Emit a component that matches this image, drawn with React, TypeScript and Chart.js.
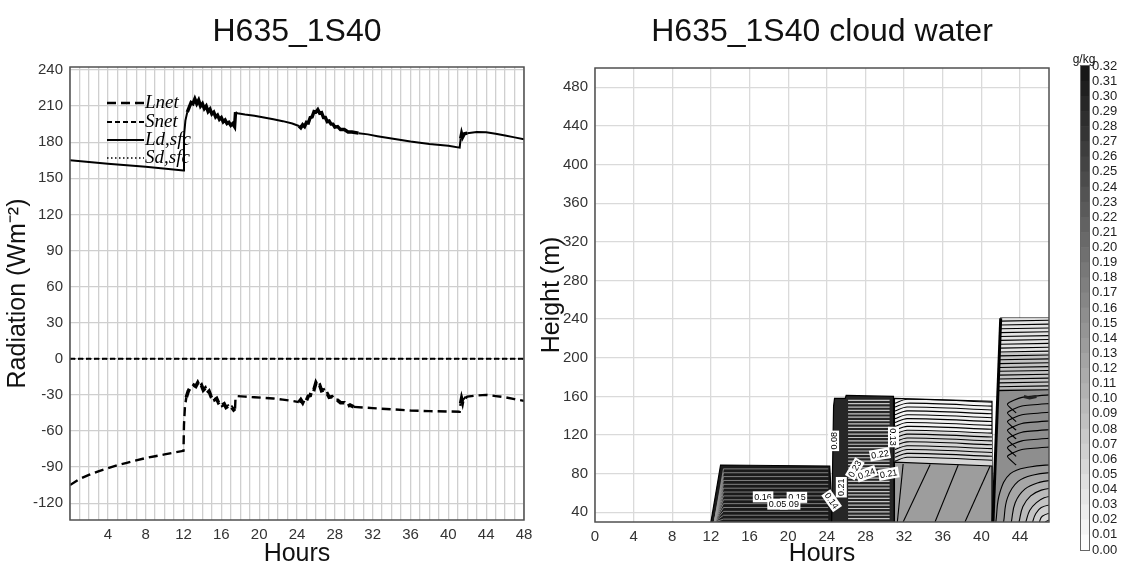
import React, { useEffect, useRef } from "react";
import { Chart, registerables } from "chart.js";

Chart.register(...registerables);

const SANS = "'Liberation Sans', Arial, Helvetica, sans-serif";
const SERIF = "'Liberation Serif', 'Times New Roman', serif";

// ---------------- Left panel: radiation time series ----------------
const lnetHours = [0, 1, 2, 3, 4, 5, 6, 7, 8, 9, 10, 11, 12, 12.05, 12.15, 12.3, 12.5, 12.7, 12.9, 13.1, 13.3, 13.5, 13.7, 13.9, 14.1, 14.3, 14.5, 14.7, 14.9, 15.1, 15.3, 15.5, 15.7, 15.9, 16.1, 16.3, 16.5, 16.7, 16.9, 17.1, 17.3, 17.45, 17.5, 17.7, 18.5, 19.5, 20.5, 21.5, 22.5, 23.5, 24.2, 24.4, 24.6, 24.8, 25.0, 25.2, 25.4, 25.6, 25.8, 26.0, 26.2, 26.4, 26.6, 26.8, 27.0, 27.2, 27.4, 27.7, 28.0, 28.3, 28.6, 29.0, 29.3, 29.6, 30, 31, 32, 34, 36, 38, 41.2, 41.3, 41.4, 41.5, 41.6, 41.8, 42, 43, 44, 45, 46, 47, 48];
const lnetValues = [-105, -100, -96.5, -93.5, -91, -88.5, -86.5, -84.5, -82.5, -81, -79.5, -78, -76.5, -55, -40, -32, -27, -24, -24, -22, -23, -20, -23.5, -22, -26, -24.5, -28.5, -27, -31, -30, -34, -33, -36.5, -35.5, -38.5, -37.5, -40.5, -39.5, -41.5, -40.5, -42.5, -41.5, -32, -31, -31.5, -32, -32.5, -33, -34, -35, -36, -34, -36.5, -33, -34.5, -31, -30.5, -25, -25.5, -20, -23, -22, -26.5, -26, -29.5, -29, -32, -31.5, -34.5, -34.5, -36.5, -36.5, -39.5, -38.5, -40, -40.5, -41, -42, -43, -43.5, -44, -37, -33, -36, -32, -33, -31.5, -30.5, -30, -31, -32, -33.5, -35];

const ldHours = [0, 4, 8, 12, 12.05, 12.2, 12.4, 12.6, 12.8, 13.0, 13.2, 13.4, 13.6, 13.8, 14.0, 14.2, 14.4, 14.6, 14.8, 15.0, 15.2, 15.4, 15.6, 15.8, 16.0, 16.2, 16.4, 16.6, 16.8, 17.0, 17.2, 17.4, 17.5, 17.7, 18.5, 19.5, 20.5, 21.5, 22.5, 23.5, 24.2, 24.4, 24.6, 24.8, 25.0, 25.2, 25.4, 25.6, 25.8, 26.0, 26.2, 26.4, 26.6, 26.8, 27.0, 27.2, 27.4, 27.6, 27.8, 28.0, 28.3, 28.6, 29.0, 29.4, 29.8, 30.5, 31.5, 32.5, 34, 36, 38, 40, 41.2, 41.3, 41.4, 41.5, 41.7, 42, 43, 44, 45, 46, 47, 48];
const ldValues = [165, 162, 159.5, 156.5, 185, 198, 205, 209, 213, 212, 216, 212, 215, 210, 212, 208, 210, 205.5, 207.5, 203.5, 205, 201, 202.5, 199, 200.5, 197, 198.5, 195.5, 196.5, 194, 195.5, 193, 205, 204, 203, 202, 200.5, 199, 197.5, 195.5, 193.5, 192, 194.5, 193, 196.5, 196, 200.5, 201, 205.5, 205, 207, 204, 204.5, 200.5, 200.5, 197, 197.5, 195, 195, 192.5, 193, 190.5, 190.5, 188.5, 188.5, 187.5, 186.5, 185, 183, 180.5, 178.5, 177, 175.5, 183, 187, 184, 187, 187.5, 188.5, 188.3, 187, 185.5, 184, 182.5];

const snetHours = [0, 48];
const snetValues = [0, 0];
const sdHours = [0, 48];
const sdValues = [0, 0];

const seriesLabels = ["Lnet", "Snet", "Ld,sfc", "Sd,sfc"];
// cloudy (noisy) periods drawn with a heavier stroke
const noisyStart = [12.3, 24.2, 41.3];
const noisyEnd = [17.45, 29.9, 41.8];

// ---------------- Right panel: cloud water contours (hours, height m) ----------------
type Pt = [number, number];
const cloud1Outline: Pt[] = [[12, 30], [13, 89], [24.3, 88], [24.6, 30]];
const cloud1Levels = [85, 81, 77, 73, 69, 65, 61, 57, 53, 49, 45, 41, 37, 33];
const cloud2Outline: Pt[] = [[24.5, 30], [24.7, 150], [24.8, 158], [25.9, 158], [26, 161], [30.9, 160], [31, 30]];
const cloud2Levels = [156, 152.5, 149, 145.5, 142, 138.5, 135, 131.5, 128, 124.5, 121, 117.5, 114, 110.5, 107, 103.5, 100, 96.5, 93, 89.5, 86, 82.5, 79, 75.5, 72, 68.5, 65, 61.5, 58, 54.5, 51, 47.5, 44, 40.5, 37, 33.5];
const cloud3Outline: Pt[] = [[31, 30], [31, 158], [41.1, 155], [41.1, 30]];
const cloud3MidOutline: Pt[] = [[31, 30], [31, 125], [41.1, 121], [41.1, 30]];
const cloud3LowOutline: Pt[] = [[31, 30], [31, 92], [41.1, 88], [41.1, 30]];
const cloud3Levels = [157, 153, 149, 145, 141, 137, 133, 129, 125, 121, 117, 113, 109, 105, 101, 97];
const cloud3Diagonals: Pt[][] = [
  [[31.9, 90], [31.3, 30]],
  [[34.7, 89.5], [31.9, 30]],
  [[37.6, 89], [35.2, 30]],
  [[40.9, 88], [38.3, 30]],
];
const cloud4Outline: Pt[] = [[41.2, 30], [42, 241], [47.6, 241], [47.6, 30]];
const cloud4UpperOutline: Pt[] = [[41.73, 168], [42, 241], [47.6, 241], [47.6, 168]];
const cloud4TopOutline: Pt[] = [[41.87, 205], [42, 241], [47.6, 241], [47.6, 205]];
const cloud4Levels = [238, 234, 230, 226, 222, 218, 214, 210, 206, 202, 198, 194, 190, 186, 182, 178, 174, 170, 166];
const cloud4Chevrons = [152, 143, 134, 125, 116, 107, 98];
const cloud4Arcs: Pt[][] = [
  [[41.5, 30], [41.9, 60], [43, 80], [45, 87], [47.6, 89.5]],
  [[42.3, 30], [42.7, 55], [43.8, 72], [45.5, 79], [47.6, 81.5]],
  [[43.1, 30], [43.5, 50], [44.5, 64], [46, 71], [47.6, 73.5]],
  [[43.9, 30], [44.3, 46], [45.1, 57], [46.2, 63], [47.6, 65.5]],
  [[44.6, 30], [45, 42], [45.7, 50], [46.5, 55], [47.6, 57.5]],
  [[45.3, 30], [45.6, 38], [46.2, 45], [47.6, 49]],
  [[46, 30], [46.3, 36], [47.6, 41]],
  [[46.6, 30], [47.6, 35]],
];
const cloud4ArcFills = ["#9c9c9c", "#a6a6a6", "#b0b0b0", "#bababa", "#c4c4c4", "#cecece", "#d8d8d8", "#e2e2e2"];
const cloud4Edge: Pt[] = [[41.2, 30], [42, 241]];
const cloud4Eye: Pt[] = [[44.4, 160], [45, 158.5], [45.7, 160]];

const labelTexts = ["0.16", "0.15", "0.09", "0.05", "0.14", "0.21", "0.23", "0.24", "0.22", "0.21", "0.13", "0.08"];
const labelHours = [17.4, 20.9, 20.2, 18.9, 24.5, 25.5, 26.9, 28.1, 29.5, 30.4, 30.9, 24.7];
const labelHeights = [56, 55.5, 48.5, 48.5, 52, 66, 85, 80, 100, 80, 118, 114];
const labelAngles = [0, 0, 0, 0, 55, -90, -60, -20, -10, -10, 90, -90];

// ---------------- Colour bar ----------------
const colorbarLevels = [0.0, 0.01, 0.02, 0.03, 0.04, 0.05, 0.06, 0.07, 0.08, 0.09, 0.1, 0.11, 0.12, 0.13, 0.14, 0.15, 0.16, 0.17, 0.18, 0.19, 0.2, 0.21, 0.22, 0.23, 0.24, 0.25, 0.26, 0.27, 0.28, 0.29, 0.3, 0.31, 0.32];

const toXY = (xs: number[], ys: number[]) => xs.map((x, i) => ({ x, y: ys[i] }));
const inNoise = (x: number) => noisyStart.some((s, i) => x >= s && x < noisyEnd[i]);

const framePlugin = {
  id: "frame",
  afterDraw(chart: any) {
    const { ctx, chartArea: a } = chart;
    ctx.save();
    ctx.strokeStyle = "#505050";
    ctx.lineWidth = 1.5;
    ctx.strokeRect(a.left, a.top, a.right - a.left, a.bottom - a.top);
    ctx.restore();
  },
};

const makeTitle = (text: string) => ({
  id: "panelTitle",
  afterDraw(chart: any) {
    const { ctx, chartArea: a } = chart;
    ctx.save();
    ctx.font = `32px ${SANS}`;
    ctx.fillStyle = "#111";
    ctx.textAlign = "center";
    ctx.textBaseline = "middle";
    ctx.fillText(text, (a.left + a.right) / 2, 32);
    ctx.restore();
  },
});

const legendPlugin = {
  id: "innerLegend",
  afterDraw(chart: any) {
    const { ctx } = chart;
    const rows = [103, 122, 140, 158];
    ctx.save();
    chart.data.datasets.forEach((ds: any, i: number) => {
      const y = rows[i];
      ctx.strokeStyle = "#000";
      ctx.lineWidth = ds.borderWidth;
      ctx.setLineDash(ds.borderDash || []);
      ctx.beginPath();
      ctx.moveTo(107, y);
      ctx.lineTo(144, y);
      ctx.stroke();
      ctx.setLineDash([]);
      ctx.font = `italic 19px ${SERIF}`;
      ctx.fillStyle = "#000";
      ctx.textBaseline = "middle";
      ctx.textAlign = "left";
      ctx.fillText(ds.label, 145, y);
    });
    ctx.restore();
  },
};

const contourLabelPlugin = {
  id: "contourLabels",
  afterDatasetsDraw(chart: any) {
    const { ctx, scales } = chart;
    ctx.save();
    ctx.font = `9px ${SANS}`;
    labelTexts.forEach((t, i) => {
      const px = scales.x.getPixelForValue(labelHours[i]);
      const py = scales.y.getPixelForValue(labelHeights[i]);
      ctx.save();
      ctx.translate(px, py);
      ctx.rotate((labelAngles[i] * Math.PI) / 180);
      const w = ctx.measureText(t).width + 3;
      ctx.fillStyle = "#fff";
      ctx.fillRect(-w / 2, -5.5, w, 11);
      ctx.fillStyle = "#000";
      ctx.textAlign = "center";
      ctx.textBaseline = "middle";
      ctx.fillText(t, 0, 0.5);
      ctx.restore();
    });
    ctx.restore();
  },
};

const gbarTitle = {
  id: "gkg",
  afterDraw(chart: any) {
    const { ctx, chartArea: a } = chart;
    ctx.save();
    ctx.font = `12px ${SANS}`;
    ctx.fillStyle = "#111";
    ctx.textAlign = "center";
    ctx.textBaseline = "middle";
    ctx.fillText("g/kg", a.left + 3, 60);
    ctx.strokeStyle = "#666";
    ctx.lineWidth = 1;
    ctx.strokeRect(a.left - 0.5, a.top - 0.5, a.right - a.left + 1, a.bottom - a.top + 1);
    ctx.restore();
  },
};

function buildContourDatasets() {
  const list: any[] = [];
  const add = (pts: Pt[], o: any) =>
    list.push({
      data: pts.map(([x, y]) => ({ x, y })),
      pointRadius: 0,
      borderWidth: 0,
      borderColor: "#000",
      backgroundColor: "rgba(0,0,0,0)",
      fill: false,
      tension: 0,
      ...o,
    });
  const edgeX = (h: number) => 41.2 + ((h - 30) * 0.8) / 211;

  add(cloud1Outline, { fill: "start", backgroundColor: "#1a1a1a", borderWidth: 1.2 });
  cloud1Levels.forEach((l) => add([[12.35, 30], [13.3, l], [24.15, l]], { borderColor: "#9a9a9a", borderWidth: 0.8 }));
  add(cloud2Outline, { fill: "start", backgroundColor: "#262626", borderWidth: 1.2 });
  cloud2Levels.forEach((l) => add([[26.2, l], [30.5, l]], { borderColor: "#c4c4c4", borderWidth: 1.2 }));
  add(cloud3Outline, { fill: "start", backgroundColor: "#f3f3f3", borderWidth: 1.2 });
  add(cloud3MidOutline, { fill: "start", backgroundColor: "#d6d6d6" });
  add(cloud3LowOutline, { fill: "start", backgroundColor: "#9d9d9d", borderWidth: 1.2 });
  cloud3Levels.forEach((l) => add([[31.05, l - 4], [32.3, l], [41.1, l - 3]], { borderWidth: 1.1, tension: 0.3 }));
  cloud3Diagonals.forEach((d) => add(d, { borderWidth: 1.1 }));
  add(cloud4Outline, { fill: { value: 30 }, backgroundColor: "#8e8e8e", borderWidth: 1.2 });
  add(cloud4UpperOutline, { fill: { value: 168 }, backgroundColor: "#c4c4c4" });
  add(cloud4TopOutline, { fill: { value: 205 }, backgroundColor: "#e4e4e4" });
  cloud4Levels.forEach((l) => add([[edgeX(l), l], [47.6, l + 1]], { borderWidth: 1.1 }));
  cloud4Chevrons.forEach((l) => add([[47.6, l + 10], [44.2, l + 7], [42.7, l], [43.6, l - 9]], { borderWidth: 1.1, tension: 0.2 }));
  cloud4Arcs.forEach((a, i) => add(a, { fill: { value: 30 }, backgroundColor: cloud4ArcFills[i], borderWidth: 1.1, tension: 0.4 }));
  add(cloud4Eye, { borderWidth: 3, borderColor: "#222" });
  add(cloud4Edge, { borderWidth: 3 });

  list.forEach((d, i) => (d.order = list.length - i));
  return list;
}

export default function App() {
  const leftRef = useRef<HTMLCanvasElement>(null);
  const rightRef = useRef<HTMLCanvasElement>(null);
  const barRef = useRef<HTMLCanvasElement>(null);

  useEffect(() => {
    const charts: Chart[] = [];
    const tickFont = { size: 15, family: SANS };
    const noisyWidth = (base: number, heavy: number) => ({
      borderWidth: (ctx: any) => (inNoise(ctx.p0.parsed.x) ? heavy : base),
    });

    charts.push(
      new Chart(leftRef.current as HTMLCanvasElement, {
        type: "line",
        data: {
          datasets: [
            { label: seriesLabels[0], data: toXY(lnetHours, lnetValues), borderColor: "#000", borderWidth: 2.4, borderDash: [9, 5], pointRadius: 0, segment: noisyWidth(2.4, 3.6) },
            { label: seriesLabels[1], data: toXY(snetHours, snetValues), borderColor: "#000", borderWidth: 2, borderDash: [5, 3], pointRadius: 0 },
            { label: seriesLabels[2], data: toXY(ldHours, ldValues), borderColor: "#000", borderWidth: 2, pointRadius: 0, segment: noisyWidth(2, 3.4) },
            { label: seriesLabels[3], data: toXY(sdHours, sdValues), borderColor: "#000", borderWidth: 1.3, borderDash: [1.5, 2.5], pointRadius: 0 },
          ],
        } as any,
        options: {
          responsive: false,
          animation: false,
          devicePixelRatio: 1,
          layout: { padding: { top: 67, right: 26, left: 0, bottom: 0 } },
          plugins: { legend: { display: false }, tooltip: { enabled: false } },
          scales: {
            x: {
              type: "linear",
              min: 0,
              max: 48,
              afterFit: (s: any) => { s.height = 49; },
              grid: { color: "#cfcfcf", lineWidth: 1.3, drawTicks: false },
              border: { display: false },
              ticks: {
                stepSize: 1,
                autoSkip: false,
                maxRotation: 0,
                padding: 6,
                font: tickFont,
                color: "#333",
                callback: (v: any) => (Number(v) % 4 === 0 && Number(v) > 0 ? String(v) : ""),
              },
              title: { display: true, text: "Hours", font: { size: 25, family: SANS }, color: "#111", padding: { top: 0, bottom: 0 } },
            },
            y: {
              min: -134,
              max: 242.5,
              afterFit: (s: any) => { s.width = 70; },
              grid: { color: "#cfcfcf", lineWidth: 1.3, drawTicks: false },
              border: { display: false },
              ticks: { stepSize: 30, includeBounds: false, autoSkip: false, padding: 7, font: tickFont, color: "#333" },
              title: { display: true, text: "Radiation (Wm⁻²)", font: { size: 25, family: SANS, lineHeight: 1 }, color: "#111", padding: { top: 6, bottom: 0 } },
            },
          },
        } as any,
        plugins: [framePlugin, makeTitle("H635_1S40"), legendPlugin],
      })
    );

    charts.push(
      new Chart(rightRef.current as HTMLCanvasElement, {
        type: "line",
        data: { datasets: buildContourDatasets() } as any,
        options: {
          responsive: false,
          animation: false,
          devicePixelRatio: 1,
          layout: { padding: { top: 68, right: 6, left: 0, bottom: 0 } },
          plugins: { legend: { display: false }, tooltip: { enabled: false } },
          scales: {
            x: {
              type: "linear",
              min: 0,
              max: 47,
              afterFit: (s: any) => { s.height = 47; },
              grid: { color: "#dadada", lineWidth: 1.3, drawTicks: false },
              border: { display: false },
              ticks: { stepSize: 4, includeBounds: false, autoSkip: false, maxRotation: 0, padding: 6, font: tickFont, color: "#333" },
              title: { display: true, text: "Hours", font: { size: 25, family: SANS }, color: "#111", padding: { top: 0, bottom: 0 } },
            },
            y: {
              min: 30,
              max: 500,
              afterFit: (s: any) => { s.width = 55; },
              grid: { color: "#dadada", lineWidth: 1.3, drawTicks: false },
              border: { display: false },
              ticks: { stepSize: 40, includeBounds: false, autoSkip: false, padding: 7, font: tickFont, color: "#333" },
              title: { display: true, text: "Height (m)", font: { size: 25, family: SANS, lineHeight: 1 }, color: "#111", padding: { top: 0, bottom: 0 } },
            },
          },
        } as any,
        plugins: [framePlugin, makeTitle("H635_1S40 cloud water"), contourLabelPlugin],
      })
    );

    const grey = (i: number) => {
      const g = Math.round(252 - (i / 31) * 228);
      return `rgb(${g},${g},${g})`;
    };
    charts.push(
      new Chart(barRef.current as HTMLCanvasElement, {
        type: "bar",
        data: {
          labels: [""],
          datasets: colorbarLevels.slice(0, -1).map((lo, i) => ({
            data: [[lo, colorbarLevels[i + 1]]],
            backgroundColor: grey(i),
            borderWidth: 0,
            grouped: false,
            barPercentage: 1,
            categoryPercentage: 1,
          })),
        } as any,
        options: {
          responsive: false,
          animation: false,
          devicePixelRatio: 1,
          layout: { padding: { top: 66, bottom: 19, left: 19, right: 0 } },
          plugins: { legend: { display: false }, tooltip: { enabled: false } },
          scales: {
            x: { display: false },
            y: {
              position: "right",
              min: 0,
              max: 0.32,
              afterFit: (s: any) => { s.width = 33; },
              grid: { display: false, drawTicks: false },
              border: { display: false },
              ticks: {
                stepSize: 0.01,
                autoSkip: false,
                padding: 3,
                font: { size: 13, family: SANS },
                color: "#222",
                callback: (v: any) => Number(v).toFixed(2),
              },
            },
          },
        } as any,
        plugins: [gbarTitle],
      })
    );

    return () => charts.forEach((c) => c.destroy());
  }, []);

  return (
    <div style={{ position: "absolute", left: 0, top: 0, width: 1122, height: 569, background: "#fff", overflow: "hidden" }}>
      <canvas ref={leftRef} width={550} height={569} style={{ position: "absolute", left: 0, top: 0, width: 550, height: 569 }} />
      <canvas ref={rightRef} width={515} height={569} style={{ position: "absolute", left: 540, top: 0, width: 515, height: 569 }} />
      <canvas ref={barRef} width={60} height={569} style={{ position: "absolute", left: 1062, top: 0, width: 60, height: 569 }} />
    </div>
  );
}
